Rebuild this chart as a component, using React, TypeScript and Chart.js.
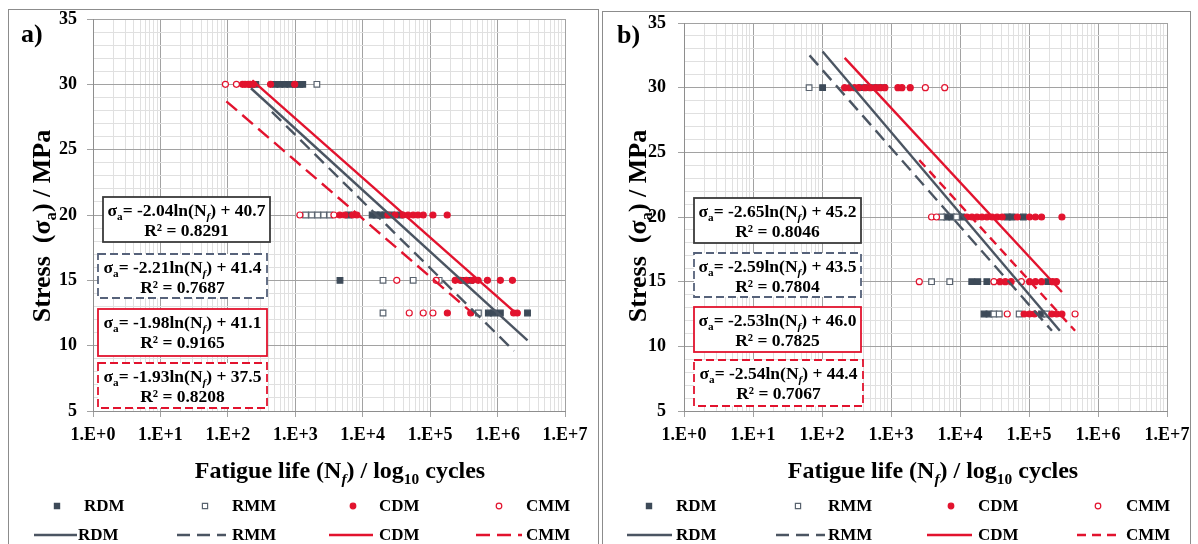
import React, { useEffect, useRef } from "react";
import { Chart, registerables } from "chart.js";

Chart.register(...registerables);

const FAMILY = '"Liberation Serif", "Times New Roman", Times, serif';
const SERIES = ["RDM", "RMM", "CDM", "CMM"];
const X_DECADES = [1, 10, 100, 1e3, 1e4, 1e5, 1e6, 1e7];
const X_TICK_LABELS = ["1.E+0", "1.E+1", "1.E+2", "1.E+3", "1.E+4", "1.E+5", "1.E+6", "1.E+7"];
const X_MINOR_FACTORS = [2, 3, 4, 5, 6, 7, 8, 9];
const Y_TICK_LABELS = [5, 10, 15, 20, 25, 30, 35];

type P = [number, number];

// ---------- Panel a) data : [fatigue life N, stress MPa] ----------
const A_RDM: P[] = [
  [225, 30], [260, 30], [500, 30], [590, 30], [700, 30], [830, 30], [1000, 30], [1170, 30], [1290, 30],
  [6200, 20], [13800, 20], [15800, 20], [18100, 20], [21400, 20], [27000, 20], [35700, 20],
  [4600, 15], [310000, 15], [398000, 15],
  [730000, 12.5], [870000, 12.5], [1100000, 12.5], [2780000, 12.5],
];
const A_RMM: P[] = [
  [2090, 30],
  [1420, 20], [1750, 20], [2150, 20], [2640, 20], [3250, 20],
  [20000, 15], [56000, 15], [136000, 15],
  [20000, 12.5], [520000, 12.5],
];
const A_CDM: P[] = [
  [165, 30], [180, 30], [200, 30], [215, 30], [240, 30], [430, 30], [980, 30],
  [4570, 20], [5450, 20], [7100, 20], [8200, 20], [23700, 20], [30200, 20], [39600, 20], [47000, 20],
  [56000, 20], [66000, 20], [79000, 20], [110000, 20], [179000, 20],
  [235000, 15], [280000, 15], [344000, 15], [424000, 15], [515000, 15], [707000, 15], [1100000, 15], [1660000, 15],
  [180000, 12.5], [400000, 12.5], [1730000, 12.5], [1960000, 12.5],
];
const A_CMM: P[] = [
  [92, 30], [134, 30],
  [1170, 20], [3740, 20],
  [32000, 15], [123000, 15],
  [49000, 12.5], [79000, 12.5], [110000, 12.5],
];
const A_TREND_RDM: P[] = [[220, 29.7], [2780000, 10.4]];
const A_TREND_RMM: P[] = [[450, 27.9], [1750000, 9.6]];
const A_TREND_CDM: P[] = [[230, 30.3], [1960000, 12.4]];
const A_TREND_CMM: P[] = [[95, 28.7], [380000, 12.7]];
const A_SLOPES = ["-2.04", "-2.21", "-1.98", "-1.93"];
const A_INTERCEPTS = ["40.7", "41.4", "41.1", "37.5"];
const A_R2 = ["0.8291", "0.7687", "0.9165", "0.8208"];

// ---------- Panel b) data ----------
const B_RDM: P[] = [
  [102, 30], [380, 30], [450, 30], [540, 30], [650, 30], [780, 30],
  [6400, 20], [7600, 20], [10600, 20], [48400, 20], [57000, 20], [83000, 20],
  [14800, 15], [18100, 15], [24500, 15], [187000, 15],
  [22300, 12.5], [26300, 12.5], [152000, 12.5],
];
const B_RMM: P[] = [
  [65, 30],
  [5410, 20], [8900, 20],
  [3870, 15], [7100, 15],
  [31000, 12.5], [37000, 12.5], [72000, 12.5], [180000, 12.5],
];
const B_CDM: P[] = [
  [213, 30], [251, 30], [296, 30], [340, 30], [420, 30], [500, 30], [600, 30], [700, 30], [815, 30],
  [1260, 30], [1440, 30], [1900, 30],
  [12600, 20], [14900, 20], [17600, 20], [20800, 20], [24600, 20], [29200, 20], [34500, 20], [40800, 20],
  [67800, 20], [102000, 20], [124000, 20], [152000, 20], [300000, 20],
  [38000, 15], [45400, 15], [55000, 15], [102000, 15], [124000, 15], [152000, 15], [220000, 15], [250000, 15],
  [85000, 12.5], [102000, 12.5], [120000, 12.5], [214000, 12.5], [252000, 12.5], [300000, 12.5],
];
const B_CMM: P[] = [
  [3150, 30], [6000, 30],
  [3870, 20], [4570, 20],
  [2570, 15], [31000, 15], [77500, 15],
  [48400, 12.5], [465000, 12.5],
];
const B_TREND_RDM: P[] = [[102, 32.8], [280000, 11.2]];
const B_TREND_RMM: P[] = [[66, 32.5], [215000, 11.2]];
const B_TREND_CDM: P[] = [[213, 32.3], [300000, 14.2]];
const B_TREND_CMM: P[] = [[2570, 24.4], [465000, 11.2]];
const B_SLOPES = ["-2.65", "-2.59", "-2.53", "-2.54"];
const B_INTERCEPTS = ["45.2", "43.5", "46.0", "44.4"];
const B_R2 = ["0.8046", "0.7804", "0.7825", "0.7067"];

// ---------- styles ----------
const DARK = "#3d4a58";
const DARK_LINE = "#4b5562";
const RED = "#e2132e";
const GRID_MAJOR = "#a2a2a2";
const GRID_MINOR = "#e0e0e0";

type Style = { color: string; dash: number[]; marker: "rect" | "circle"; fill: string; stroke: string; box: string };
const STYLES: Style[] = [
  { color: DARK_LINE, dash: [], marker: "rect", fill: DARK, stroke: DARK, box: "#3a3a3a" },
  { color: DARK_LINE, dash: [13, 7], marker: "rect", fill: "#ffffff", stroke: "#59636f", box: "#56627a" },
  { color: RED, dash: [], marker: "circle", fill: RED, stroke: RED, box: RED },
  { color: RED, dash: [14, 7], marker: "circle", fill: "#ffffff", stroke: RED, box: RED },
];

type Panel = {
  name: string;
  frameLeft: number;
  frameTop: number;
  width: number;
  height: number;
  area: { left: number; right: number; top: number; bottom: number };
  tickPad: number;
  points: P[][];
  trends: P[][];
  slopes: string[];
  intercepts: string[];
  r2: string[];
  boxes: number[][];
  cmmDash: number[];
  rmmDash: number[];
  legend: { markers: number[]; texts: number[]; lines: number[][]; row2Texts: number[]; y1: number; y2: number };
  xTitle: [number, number];
  yTitle: [number, number];
  label: [number, number];
};

const PANEL_A: Panel = {
  name: "a)",
  frameLeft: 8,
  frameTop: 9,
  width: 589,
  height: 534,
  area: { left: 84, right: 556, top: 9, bottom: 401 },
  tickPad: 10,
  points: [A_RDM, A_RMM, A_CDM, A_CMM],
  trends: [A_TREND_RDM, A_TREND_RMM, A_TREND_CDM, A_TREND_CMM],
  slopes: A_SLOPES,
  intercepts: A_INTERCEPTS,
  r2: A_R2,
  boxes: [[10, 178, 167, 45], [5, 235, 169, 44], [5, 290, 169, 47], [5, 344, 169, 45]],
  cmmDash: [14, 7],
  rmmDash: [13, 7],
  legend: {
    markers: [48, 196, 344, 490],
    texts: [75, 223, 370, 517],
    lines: [[25, 68], [168, 217], [320, 364], [467, 513]],
    row2Texts: [69, 223, 370, 517],
    y1: 496,
    y2: 525,
  },
  xTitle: [331, 468],
  yTitle: [39, 216],
  label: [12, 32],
};

const PANEL_B: Panel = {
  name: "b)",
  frameLeft: 602,
  frameTop: 11,
  width: 587,
  height: 532,
  area: { left: 81, right: 564, top: 11, bottom: 399 },
  tickPad: 12,
  points: [B_RDM, B_RMM, B_CDM, B_CMM],
  trends: [B_TREND_RDM, B_TREND_RMM, B_TREND_CDM, B_TREND_CMM],
  slopes: B_SLOPES,
  intercepts: B_INTERCEPTS,
  r2: B_R2,
  boxes: [[10, 175, 167, 45], [10, 230, 167, 44], [10, 284, 167, 45], [10, 337, 169, 46]],
  cmmDash: [9, 6],
  rmmDash: [13, 7],
  legend: {
    markers: [46, 195, 348, 495],
    texts: [73, 225, 375, 523],
    lines: [[24, 69], [173, 222], [324, 369], [474, 518]],
    row2Texts: [73, 225, 375, 523],
    y1: 494,
    y2: 523,
  },
  xTitle: [330, 466],
  yTitle: [41, 214],
  label: [14, 31],
};

type Seg = { t: string; sub?: boolean; it?: boolean };

function drawRich(ctx: CanvasRenderingContext2D, segs: Seg[], cx: number, baseline: number, size: number) {
  const parts = segs.map((s) => {
    const fs = s.sub ? size * 0.64 : size;
    const font = `${s.it ? "italic " : ""}bold ${fs}px ${FAMILY}`;
    ctx.font = font;
    return { ...s, font, w: ctx.measureText(s.t).width };
  });
  const total = parts.reduce((a, p) => a + p.w, 0);
  let x = cx - total / 2;
  ctx.textAlign = "left";
  ctx.textBaseline = "alphabetic";
  parts.forEach((p) => {
    ctx.font = p.font;
    ctx.fillText(p.t, x, baseline + (p.sub ? size * 0.24 : 0));
    x += p.w;
  });
}

function drawMarker(ctx: CanvasRenderingContext2D, st: Style, x: number, y: number) {
  ctx.save();
  ctx.beginPath();
  if (st.marker === "rect") ctx.rect(x - 2.6, y - 2.6, 5.2, 5.2);
  else ctx.arc(x, y, 2.8, 0, Math.PI * 2);
  ctx.fillStyle = st.fill;
  ctx.fill();
  ctx.lineWidth = 1.2;
  ctx.strokeStyle = st.stroke;
  ctx.stroke();
  ctx.restore();
}

function makeConfig(panel: Panel): any {
  const styles = STYLES.map((s, i) => ({
    ...s,
    dash: i === 3 ? panel.cmmDash : i === 1 ? panel.rmmDash : s.dash,
  }));
  const datasets: any[] = [];
  SERIES.forEach((name, i) => {
    const st = styles[i];
    datasets.push({
      label: name + " trend",
      data: panel.trends[i].map(([x, y]) => ({ x, y })),
      showLine: true,
      borderColor: st.color,
      borderWidth: 2.4,
      borderDash: st.dash,
      pointRadius: 0,
      fill: false,
      order: 0,
    });
  });
  SERIES.forEach((name, i) => {
    const st = styles[i];
    datasets.push({
      label: name,
      data: panel.points[i].map(([x, y]) => ({ x, y })),
      showLine: false,
      pointStyle: st.marker,
      pointRadius: st.marker === "rect" ? 4 : 3,
      pointBackgroundColor: st.fill,
      pointBorderColor: st.stroke,
      pointBorderWidth: 1.2,
      order: 4 - i,
    });
  });

  const overlay = {
    id: "overlay" + panel.name,
    afterDraw(chart: any) {
      const ctx: CanvasRenderingContext2D = chart.ctx;
      const ca = chart.chartArea;
      ctx.save();
      // equation boxes
      SERIES.forEach((_, i) => {
        const st = styles[i];
        const [dx, dy, w, h] = panel.boxes[i];
        const x = ca.left + dx;
        const y = ca.top + dy;
        ctx.save();
        ctx.fillStyle = "#ffffff";
        ctx.fillRect(x, y, w, h);
        ctx.setLineDash(i === 1 || i === 3 ? [8, 4] : []);
        ctx.lineWidth = 1.8;
        ctx.strokeStyle = st.box;
        ctx.strokeRect(x, y, w, h);
        ctx.restore();
        ctx.fillStyle = "#000";
        drawRich(
          ctx,
          [
            { t: "σ" },
            { t: "a", sub: true },
            { t: "= " + panel.slopes[i] + "ln(N" },
            { t: "f", sub: true, it: true },
            { t: ") + " + panel.intercepts[i] },
          ],
          x + w / 2,
          y + 19,
          17.5
        );
        drawRich(ctx, [{ t: "R² = " + panel.r2[i] }], x + w / 2, y + 39, 17.5);
      });
      // axis titles
      ctx.fillStyle = "#000";
      drawRich(
        ctx,
        [{ t: "Fatigue life (N" }, { t: "f", sub: true, it: true }, { t: ") / log" }, { t: "10", sub: true }, { t: " cycles" }],
        panel.xTitle[0],
        panel.xTitle[1],
        24
      );
      ctx.save();
      ctx.translate(panel.yTitle[0] + 2, panel.yTitle[1]);
      ctx.rotate(-Math.PI / 2);
      drawRich(ctx, [{ t: "Stress  (σ" }, { t: "a", sub: true }, { t: ") / MPa" }], 0, 0, 26);
      ctx.restore();
      // panel label
      ctx.font = `bold 26px ${FAMILY}`;
      ctx.textAlign = "left";
      ctx.textBaseline = "alphabetic";
      ctx.fillText(panel.name, panel.label[0], panel.label[1]);
      // legend
      const L = panel.legend;
      SERIES.forEach((name, i) => {
        const st = styles[i];
        drawMarker(ctx, st, L.markers[i], L.y1);
        ctx.fillStyle = "#000";
        ctx.font = `bold 17px ${FAMILY}`;
        ctx.textAlign = "left";
        ctx.textBaseline = "middle";
        ctx.fillText(name, L.texts[i], L.y1 + 1);
        ctx.save();
        ctx.beginPath();
        ctx.setLineDash(st.dash);
        ctx.lineWidth = 2.4;
        ctx.strokeStyle = st.color;
        ctx.moveTo(L.lines[i][0], L.y2);
        ctx.lineTo(L.lines[i][1], L.y2);
        ctx.stroke();
        ctx.restore();
        ctx.fillText(name, L.row2Texts[i], L.y2 + 1);
      });
      ctx.restore();
    },
  };

  const xTicks: { value: number; major: boolean }[] = [];
  X_DECADES.forEach((d, i) => {
    xTicks.push({ value: d, major: true });
    if (i < X_DECADES.length - 1) X_MINOR_FACTORS.forEach((f) => xTicks.push({ value: d * f, major: false }));
  });
  const tickFont = { family: FAMILY, size: 18, weight: "bold" as const };

  return {
    type: "scatter",
    data: { datasets },
    plugins: [overlay],
    options: {
      animation: false,
      responsive: false,
      maintainAspectRatio: false,
      devicePixelRatio: 1,
      layout: { padding: { left: 0, top: panel.area.top, right: panel.width - panel.area.right, bottom: 0 } },
      plugins: { legend: { display: false }, tooltip: { enabled: false } },
      scales: {
        x: {
          type: "logarithmic",
          min: 1,
          max: 1e7,
          afterBuildTicks: (s: any) => {
            s.ticks = xTicks.map((t) => ({ ...t }));
          },
          afterFit: (s: any) => {
            s.height = panel.height - panel.area.bottom;
            s.paddingLeft = 0;
            s.paddingRight = 0;
            s.paddingTop = 0;
            s.paddingBottom = 0;
          },
          ticks: {
            autoSkip: false,
            maxRotation: 0,
            minRotation: 0,
            padding: 8,
            color: "#000",
            font: tickFont,
            callback: (v: number) => {
              const i = X_DECADES.indexOf(v);
              return i >= 0 ? X_TICK_LABELS[i] : "";
            },
          },
          grid: {
            color: (c: any) => (c.tick && X_DECADES.includes(c.tick.value) ? GRID_MAJOR : GRID_MINOR),
            tickColor: (c: any) => (c.tick && X_DECADES.includes(c.tick.value) ? GRID_MAJOR : "rgba(0,0,0,0)"),
            lineWidth: 1,
            tickLength: 6,
          },
          border: { display: true, color: "#8e8e8e", width: 1 },
        },
        y: {
          type: "linear",
          min: 5,
          max: 35,
          afterFit: (s: any) => {
            s.width = panel.area.left;
            s.paddingLeft = 0;
            s.paddingRight = 0;
            s.paddingTop = 0;
            s.paddingBottom = 0;
          },
          ticks: {
            stepSize: 1,
            autoSkip: false,
            padding: panel.tickPad,
            color: "#000",
            font: tickFont,
            callback: (v: number) => (Y_TICK_LABELS.includes(v) ? String(v) : ""),
          },
          grid: {
            color: (c: any) => (c.tick && Y_TICK_LABELS.includes(c.tick.value) ? GRID_MAJOR : GRID_MINOR),
            tickColor: (c: any) => (c.tick && Y_TICK_LABELS.includes(c.tick.value) ? GRID_MAJOR : "rgba(0,0,0,0)"),
            lineWidth: 1,
            tickLength: 6,
          },
          border: { display: true, color: "#8e8e8e", width: 1 },
        },
      },
    },
  };
}

function PanelChart({ panel }: { panel: Panel }) {
  const ref = useRef<HTMLCanvasElement>(null);
  useEffect(() => {
    if (!ref.current) return;
    const chart = new Chart(ref.current, makeConfig(panel));
    return () => chart.destroy();
  }, [panel]);
  return (
    <div
      style={{
        position: "absolute",
        left: panel.frameLeft,
        top: panel.frameTop,
        width: panel.width,
        height: panel.height + 10,
        borderLeft: "1px solid #8c8c8c",
        borderTop: "1px solid #8c8c8c",
        borderRight: "1px solid #8c8c8c",
      }}
    >
      <canvas
        ref={ref}
        width={panel.width}
        height={panel.height}
        style={{ display: "block", width: panel.width, height: panel.height }}
      />
    </div>
  );
}

export default function App() {
  return (
    <div
      style={{
        position: "fixed",
        left: 0,
        top: 0,
        width: 1198,
        height: 544,
        overflow: "hidden",
        background: "#ffffff",
      }}
    >
      <PanelChart panel={PANEL_A} />
      <PanelChart panel={PANEL_B} />
    </div>
  );
}
